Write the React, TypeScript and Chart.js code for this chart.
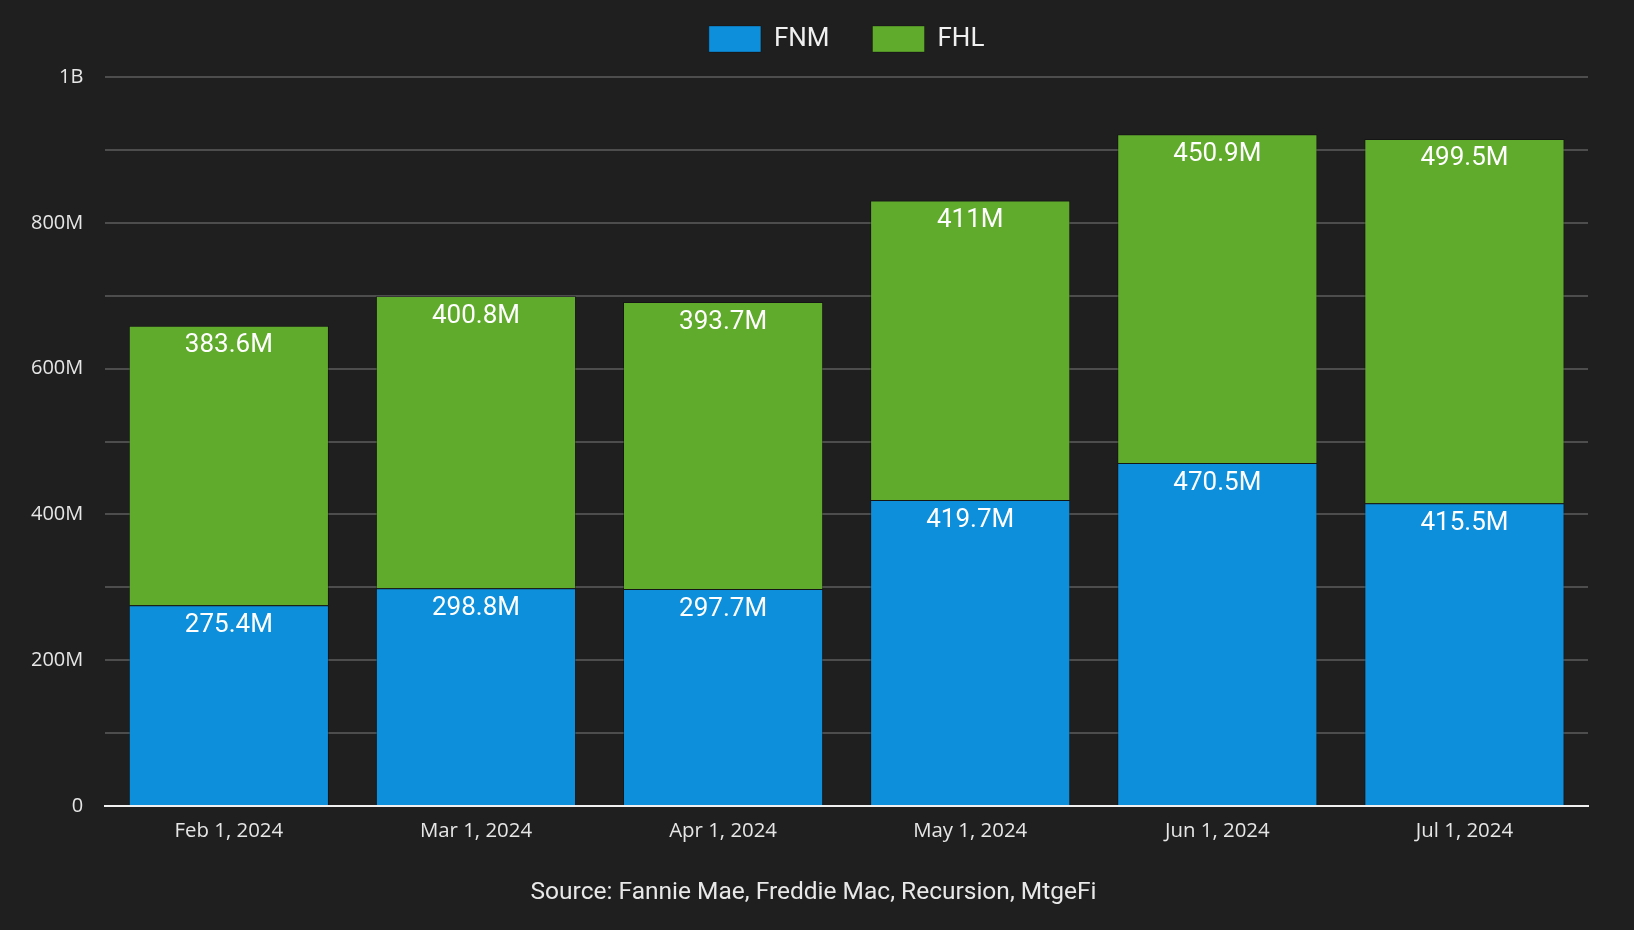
import React, { useEffect, useRef } from "react";
import { Chart, registerables } from "chart.js";

Chart.register(...registerables);

const categories = ["Feb 1, 2024", "Mar 1, 2024", "Apr 1, 2024", "May 1, 2024", "Jun 1, 2024", "Jul 1, 2024"];
const fnmValues = [275.4, 298.8, 297.7, 419.7, 470.5, 415.5];
const fhlValues = [383.6, 400.8, 393.7, 411, 450.9, 499.5];
const seriesNames = ["FNM", "FHL"];
const sourceText = "Source: Fannie Mae, Freddie Mac, Recursion, MtgeFi";

const BG = "#1f1f1f";
const BLUE = "#0d8fdc";
const GREEN = "#61ab2c";

const fmtM = (v: number) => (v === 0 ? "0" : v >= 1000 ? `${v / 1000}B` : `${v}M`);

const barLabels = {
  id: "barLabels",
  afterDatasetsDraw(chart: any) {
    const ctx = chart.ctx;
    ctx.save();
    ctx.font = "26px Roboto";
    ctx.fillStyle = "#ffffff";
    ctx.textAlign = "center";
    ctx.textBaseline = "top";
    chart.data.datasets.forEach((ds: any, i: number) => {
      const meta = chart.getDatasetMeta(i);
      meta.data.forEach((el: any, j: number) => {
        const v = ds.data[j];
        ctx.fillText(fmtM(v), el.x, el.y + 7);
      });
    });
    ctx.restore();
  },
};

const legendGap = {
  id: "legendGap",
  afterInit(chart: any) {
    const legend = chart.legend;
    if (!legend) return;
    const orig = legend.fit;
    legend.fit = function () {
      orig.call(this);
      this.height += 15;
    };
  },
  afterLayout(chart: any) {
    const tb = chart.titleBlock;
    if (tb) {
      tb.left = tb.left + 30;
      tb.width = tb.right - tb.left;
    }
  },
};

export default function App() {
  const ref = useRef<HTMLCanvasElement>(null);
  useEffect(() => {
    document.body.style.margin = "0";
    document.body.style.background = BG;
    const chart = new Chart(ref.current!, {
      type: "bar",
      data: {
        labels: categories,
        datasets: [
          {
            label: seriesNames[0],
            data: fnmValues,
            backgroundColor: BLUE,
            borderColor: "rgba(0,0,0,0.3)",
            borderWidth: 1,
          },
          {
            label: seriesNames[1],
            data: fhlValues,
            backgroundColor: GREEN,
            borderColor: "rgba(0,0,0,0.3)",
            borderWidth: 1,
          },
        ],
      },
      options: {
        responsive: false,
        animation: false,
        layout: { padding: { left: 9, right: 46, top: -17, bottom: 0 } },
        datasets: { bar: { categoryPercentage: 0.9, barPercentage: 0.9 } },
        plugins: {
          legend: {
            position: "top",
            fullSize: false,
            labels: {
              boxWidth: 52,
              boxHeight: 26,
              padding: 43,
              color: "#f0f0f0",
              font: { family: "Roboto", size: 26 },
            },
          },
          title: {
            display: true,
            text: sourceText,
            position: "bottom",
            color: "#e8e8e8",
            font: { family: "Roboto", size: 24.5, weight: "normal" },
            padding: { top: 22, bottom: 22 },
          },
          tooltip: { enabled: false },
        },
        scales: {
          x: {
            stacked: true,
            grid: { display: false, drawTicks: false },
            border: { display: true, color: "#f0f0f0", width: 2 },
            ticks: {
              color: "#e6e6e6",
              padding: 13,
              font: { family: "Open Sans", size: 20.4 },
            },
          },
          y: {
            stacked: true,
            min: 0,
            max: 1000,
            grid: { color: "#4d4d4d", lineWidth: 2, drawTicks: false },
            border: { display: false },
            ticks: {
              stepSize: 100,
              color: "#e6e6e6",
              padding: 22,
              font: { family: "Open Sans", size: 20 },
              callback: (v: any) => (Number(v) % 200 === 0 ? fmtM(Number(v)) : ""),
            },
          },
        },
      },
      plugins: [barLabels, legendGap],
    });
    return () => chart.destroy();
  }, []);
  return (
    <div style={{ width: 1634, height: 930, background: BG }}>
      <canvas ref={ref} width={1634} height={930} style={{ display: "block" }} />
    </div>
  );
}
